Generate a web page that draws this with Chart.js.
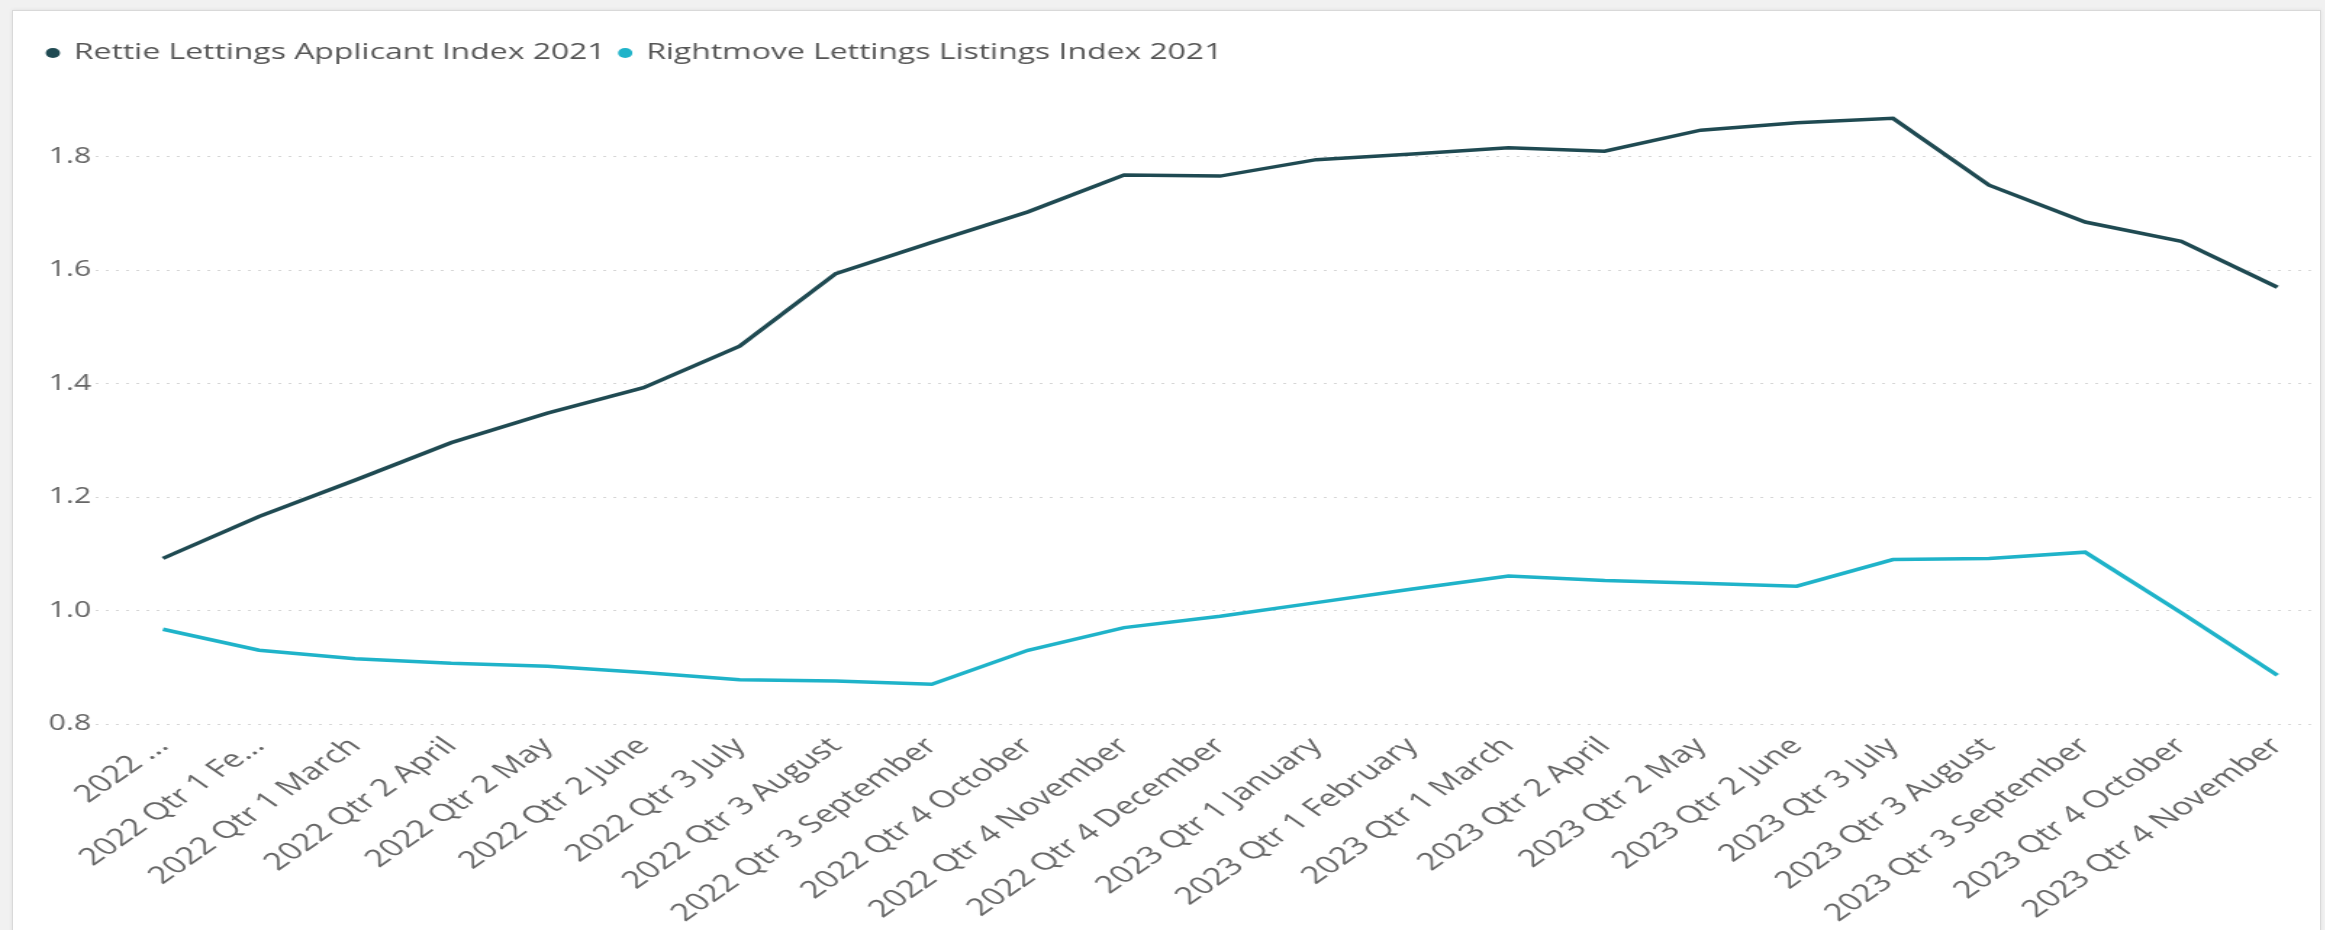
<!DOCTYPE html>
<html>
<head>
<meta charset="utf-8">
<title>Rettie vs Rightmove lettings index</title>
<script src="https://cdn.jsdelivr.net/npm/chart.js@4/dist/chart.umd.min.js"></script>
<style>
  html, body { margin: 0; padding: 0; }
  body { width: 2325px; height: 930px; overflow: hidden; background: #f1f1f1; position: relative; }
  #tarjeta { position: absolute; left: 12px; top: 10px; width: 2307px; height: 930px; background: #ffffff;
             border: 1px solid #d9d9d9; box-shadow: 0 0 4px rgba(0,0,0,0.08); }
  /* the screenshot is stretched sideways, so the chart is drawn narrow and widened */
  #lienzo { position: absolute; left: 0; top: 1px; width: 1590px; height: 918px;
            transform: scaleX(1.45); transform-origin: 0 0; }
</style>
</head>
<body>
<div id="tarjeta">
  <div id="lienzo"><canvas id="grafico" width="1590" height="918"></canvas></div>
</div>
<script>
// months shown on the axis
let meses = ['2022 Qtr 1 January', '2022 Qtr 1 February', '2022 Qtr 1 March', '2022 Qtr 2 April', '2022 Qtr 2 May',
  '2022 Qtr 2 June', '2022 Qtr 3 July', '2022 Qtr 3 August', '2022 Qtr 3 September', '2022 Qtr 4 October',
  '2022 Qtr 4 November', '2022 Qtr 4 December', '2023 Qtr 1 January', '2023 Qtr 1 February', '2023 Qtr 1 March',
  '2023 Qtr 2 April', '2023 Qtr 2 May', '2023 Qtr 2 June', '2023 Qtr 3 July', '2023 Qtr 3 August',
  '2023 Qtr 3 September', '2023 Qtr 4 October', '2023 Qtr 4 November'];

// labels as they appear (first two cut off)
let etiquetasX = ['2022 ...', '2022 Qtr 1 Fe...', '2022 Qtr 1 March', '2022 Qtr 2 April', '2022 Qtr 2 May',
  '2022 Qtr 2 June', '2022 Qtr 3 July', '2022 Qtr 3 August', '2022 Qtr 3 September', '2022 Qtr 4 October',
  '2022 Qtr 4 November', '2022 Qtr 4 December', '2023 Qtr 1 January', '2023 Qtr 1 February', '2023 Qtr 1 March',
  '2023 Qtr 2 April', '2023 Qtr 2 May', '2023 Qtr 2 June', '2023 Qtr 3 July', '2023 Qtr 3 August',
  '2023 Qtr 3 September', '2023 Qtr 4 October', '2023 Qtr 4 November'];

let rettie = [1.092, 1.166, 1.230, 1.296, 1.348, 1.393, 1.466, 1.594, 1.649, 1.703, 1.768, 1.766,
  1.795, 1.805, 1.816, 1.810, 1.847, 1.860, 1.868, 1.750, 1.685, 1.651, 1.570];

let rightmove = [0.967, 0.930, 0.915, 0.907, 0.902, 0.891, 0.878, 0.876, 0.870, 0.930, 0.970, 0.990,
  1.014, 1.038, 1.061, 1.053, 1.048, 1.043, 1.090, 1.092, 1.103, 0.996, 0.886];

let nombreRettie = 'Rettie Lettings Applicant Index 2021';
let nombreRightmove = 'Rightmove Lettings Listings Index 2021';

let colorRettie = '#1f4a52';
let colorRightmove = '#1fb3c9';

let ticksY = [0.8, 1.0, 1.2, 1.4, 1.6, 1.8];

const aPuntos = (valores) => valores.map((v, i) => ({ x: i, y: v }));

var grafico = document.getElementById('grafico');

var chart = new Chart(grafico, {
  type: 'line',
  data: {
    datasets: [{
      label: nombreRettie,
      data: aPuntos(rettie),
      borderColor: colorRettie,
      backgroundColor: colorRettie,
      borderWidth: 3.5,
      pointRadius: 0,
      tension: 0
    }, {
      label: nombreRightmove,
      data: aPuntos(rightmove),
      borderColor: colorRightmove,
      backgroundColor: colorRightmove,
      borderWidth: 3.5,
      pointRadius: 0,
      tension: 0
    }]
  },
  options: {
    responsive: false,
    animation: false,
    devicePixelRatio: 1,
    layout: { padding: { left: 14, top: 20, right: 0, bottom: 0 } },
    plugins: {
      tooltip: { enabled: false },
      legend: {
        position: 'top',
        align: 'start',
        labels: {
          usePointStyle: true,
          pointStyle: 'circle',
          boxWidth: 7,
          boxHeight: 7,
          padding: 10,
          color: '#555555',
          font: { family: 'Open Sans', size: 22 },
          generateLabels: (c) => Chart.defaults.plugins.legend.labels.generateLabels(c).map(l => {
            l.lineWidth = 0;
            return l;
          })
        }
      }
    },
    scales: {
      x: {
        type: 'linear',
        min: -0.7,
        max: 22.35,
        grid: { display: false, drawTicks: false },
        border: { display: false },
        afterFit: (escala) => { escala.height = 206; },
        ticks: {
          stepSize: 1,
          includeBounds: false,
          autoSkip: false,
          minRotation: 45,
          maxRotation: 45,
          padding: 8,
          color: '#666666',
          font: { family: 'Open Sans', size: 24 },
          callback: (valor) => Number.isInteger(valor) ? etiquetasX[valor] : ''
        }
      },
      y: {
        min: ticksY[0],
        max: 1.946,
        grid: { color: '#d6d6d6', lineWidth: 1, drawTicks: false },
        border: { display: false, dash: [2, 5] },
        afterFit: (escala) => { escala.width = 43; },
        afterBuildTicks: (escala) => { escala.ticks = ticksY.map(v => ({ value: v })); },
        ticks: {
          padding: 3,
          color: '#666666',
          font: { family: 'Open Sans', size: 21 },
          callback: (valor) => valor.toFixed(1)
        }
      }
    }
  }
});
</script>
</body>
</html>
